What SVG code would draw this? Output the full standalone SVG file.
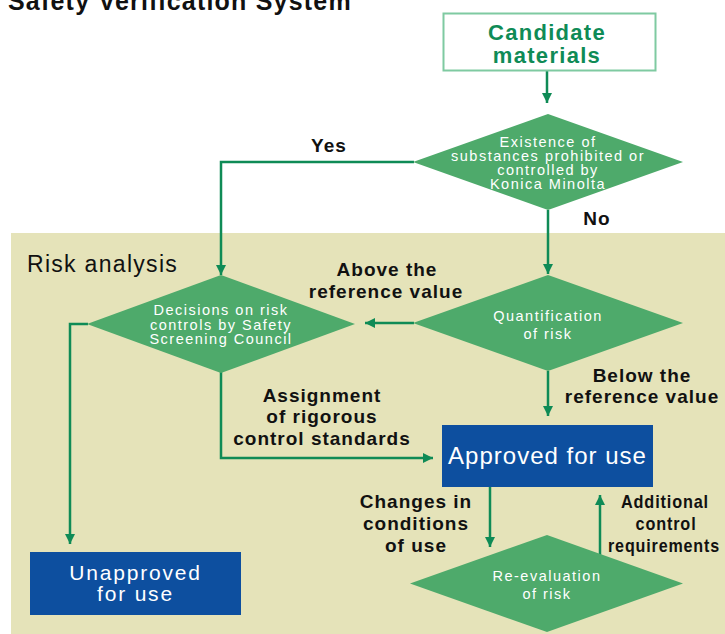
<svg xmlns="http://www.w3.org/2000/svg" width="725" height="634" viewBox="0 0 725 634">
  <defs>
    <style>
      .title { font-family: "Liberation Sans", Arial, sans-serif; font-weight: bold; font-size: 25px; letter-spacing: 1.2px; fill: #111; }
      .lbl { font-family: "Liberation Sans", Arial, sans-serif; font-weight: bold; font-size: 19px; letter-spacing: 1px; fill: #111; text-anchor: middle; }
      .dtxt { font-family: "Liberation Sans", Arial, sans-serif; font-size: 14.5px; letter-spacing: 1.5px; fill: #fff; text-anchor: middle; }
      .btxt { font-family: "Liberation Sans", Arial, sans-serif; fill: #fff; text-anchor: middle; }
      .diamond { fill: #4eaa6b; }
      .bluebox { fill: #0d4f9f; }
      .conn { fill: none; stroke: #0f8b56; stroke-width: 2.5; }
    </style>
    <marker id="arrow" viewBox="0 0 10 10" refX="10" refY="5" markerWidth="10" markerHeight="10" markerUnits="userSpaceOnUse" orient="auto">
      <path d="M0,0 L10,5 L0,10 Z" fill="#0f8b56"/>
    </marker>
  </defs>

  <rect width="725" height="634" fill="#ffffff"/>

  <!-- title -->
  <text class="title" x="8" y="10">Safety Verification System</text>

  <!-- risk analysis area -->
  <g id="risk-area">
    <rect x="11" y="233" width="714" height="401" fill="#e5e3b9"/>
    <text x="27" y="272" font-family="Liberation Sans, Arial, sans-serif" font-size="23" letter-spacing="1.3" fill="#111">Risk analysis</text>
  </g>

  <!-- connectors -->
  <g id="connectors">
    <path class="conn" d="M547,71 V103" marker-end="url(#arrow)"/>
    <path class="conn" d="M414,162 H221 V275" marker-end="url(#arrow)"/>
    <path class="conn" d="M548,210 V274" marker-end="url(#arrow)"/>
    <path class="conn" d="M414,323 H365" marker-end="url(#arrow)"/>
    <path class="conn" d="M548,371 V416" marker-end="url(#arrow)"/>
    <path class="conn" d="M88,324 H70 V544" marker-end="url(#arrow)"/>
    <path class="conn" d="M221,372 V458 H433" marker-end="url(#arrow)"/>
    <path class="conn" d="M490,487 V547" marker-end="url(#arrow)"/>
    <path class="conn" d="M600,555 V495" marker-end="url(#arrow)"/>

    <text class="lbl" x="329" y="152">Yes</text>
    <text class="lbl" x="597" y="225">No</text>
    <text class="lbl" x="387" y="276">Above the</text>
    <text class="lbl" x="386" y="298">reference value</text>
    <text class="lbl" x="642" y="382">Below the</text>
    <text class="lbl" x="642" y="403">reference value</text>
    <text class="lbl" x="322" y="402">Assignment</text>
    <text class="lbl" x="322" y="423">of rigorous</text>
    <text class="lbl" x="322" y="445">control standards</text>
    <text class="lbl" x="416" y="508">Changes in</text>
    <text class="lbl" x="416" y="530">conditions</text>
    <text class="lbl" x="416" y="552">of use</text>
    <text class="lbl" x="665" y="508" textLength="88" lengthAdjust="spacingAndGlyphs">Additional</text>
    <text class="lbl" x="666" y="530" textLength="61" lengthAdjust="spacingAndGlyphs">control</text>
    <text class="lbl" x="664" y="552" textLength="112" lengthAdjust="spacingAndGlyphs">requirements</text>
  </g>

  <!-- nodes -->
  <g id="candidate-materials">
    <rect x="443.5" y="13.5" width="212" height="57" fill="#ffffff" stroke="#7fcaa1" stroke-width="2"/>
    <text x="547" y="40" text-anchor="middle" font-family="Liberation Sans, Arial, sans-serif" font-weight="bold" font-size="22" letter-spacing="1.3" fill="#0f8b56">Candidate</text>
    <text x="547" y="63" text-anchor="middle" font-family="Liberation Sans, Arial, sans-serif" font-weight="bold" font-size="22" letter-spacing="1.3" fill="#0f8b56">materials</text>
  </g>

  <g id="prohibited-substances">
    <polygon class="diamond" points="548,114 683,162 548,210 413,162"/>
    <text class="dtxt" x="548" y="147">Existence of</text>
    <text class="dtxt" x="548" y="161">substances prohibited or</text>
    <text class="dtxt" x="548" y="175">controlled by</text>
    <text class="dtxt" x="548" y="189">Konica Minolta</text>
  </g>

  <g id="council-decision">
    <polygon class="diamond" points="221,275 355,324 221,373 87,324"/>
    <text class="dtxt" x="221" y="315">Decisions on risk</text>
    <text class="dtxt" x="221" y="329.5">controls by Safety</text>
    <text class="dtxt" x="221" y="344">Screening Council</text>
  </g>

  <g id="risk-quantification">
    <polygon class="diamond" points="548,275 683,323 548,371 413,323"/>
    <text class="dtxt" x="548" y="320.5">Quantification</text>
    <text class="dtxt" x="548" y="338.5">of risk</text>
  </g>

  <g id="approved">
    <rect class="bluebox" x="442" y="425" width="211" height="62"/>
    <text class="btxt" x="547.5" y="463.5" font-size="24" letter-spacing="1">Approved for use</text>
  </g>

  <g id="unapproved">
    <rect class="bluebox" x="30" y="552" width="211" height="63"/>
    <text class="btxt" x="135.5" y="580" font-size="21" letter-spacing="1.8">Unapproved</text>
    <text class="btxt" x="135.5" y="601" font-size="21" letter-spacing="1.8">for use</text>
  </g>

  <g id="re-evaluation">
    <polygon class="diamond" points="547,535 683,583.5 547,632 410,583.5"/>
    <text class="dtxt" x="547" y="580.5">Re-evaluation</text>
    <text class="dtxt" x="547" y="598.5">of risk</text>
  </g>
</svg>
